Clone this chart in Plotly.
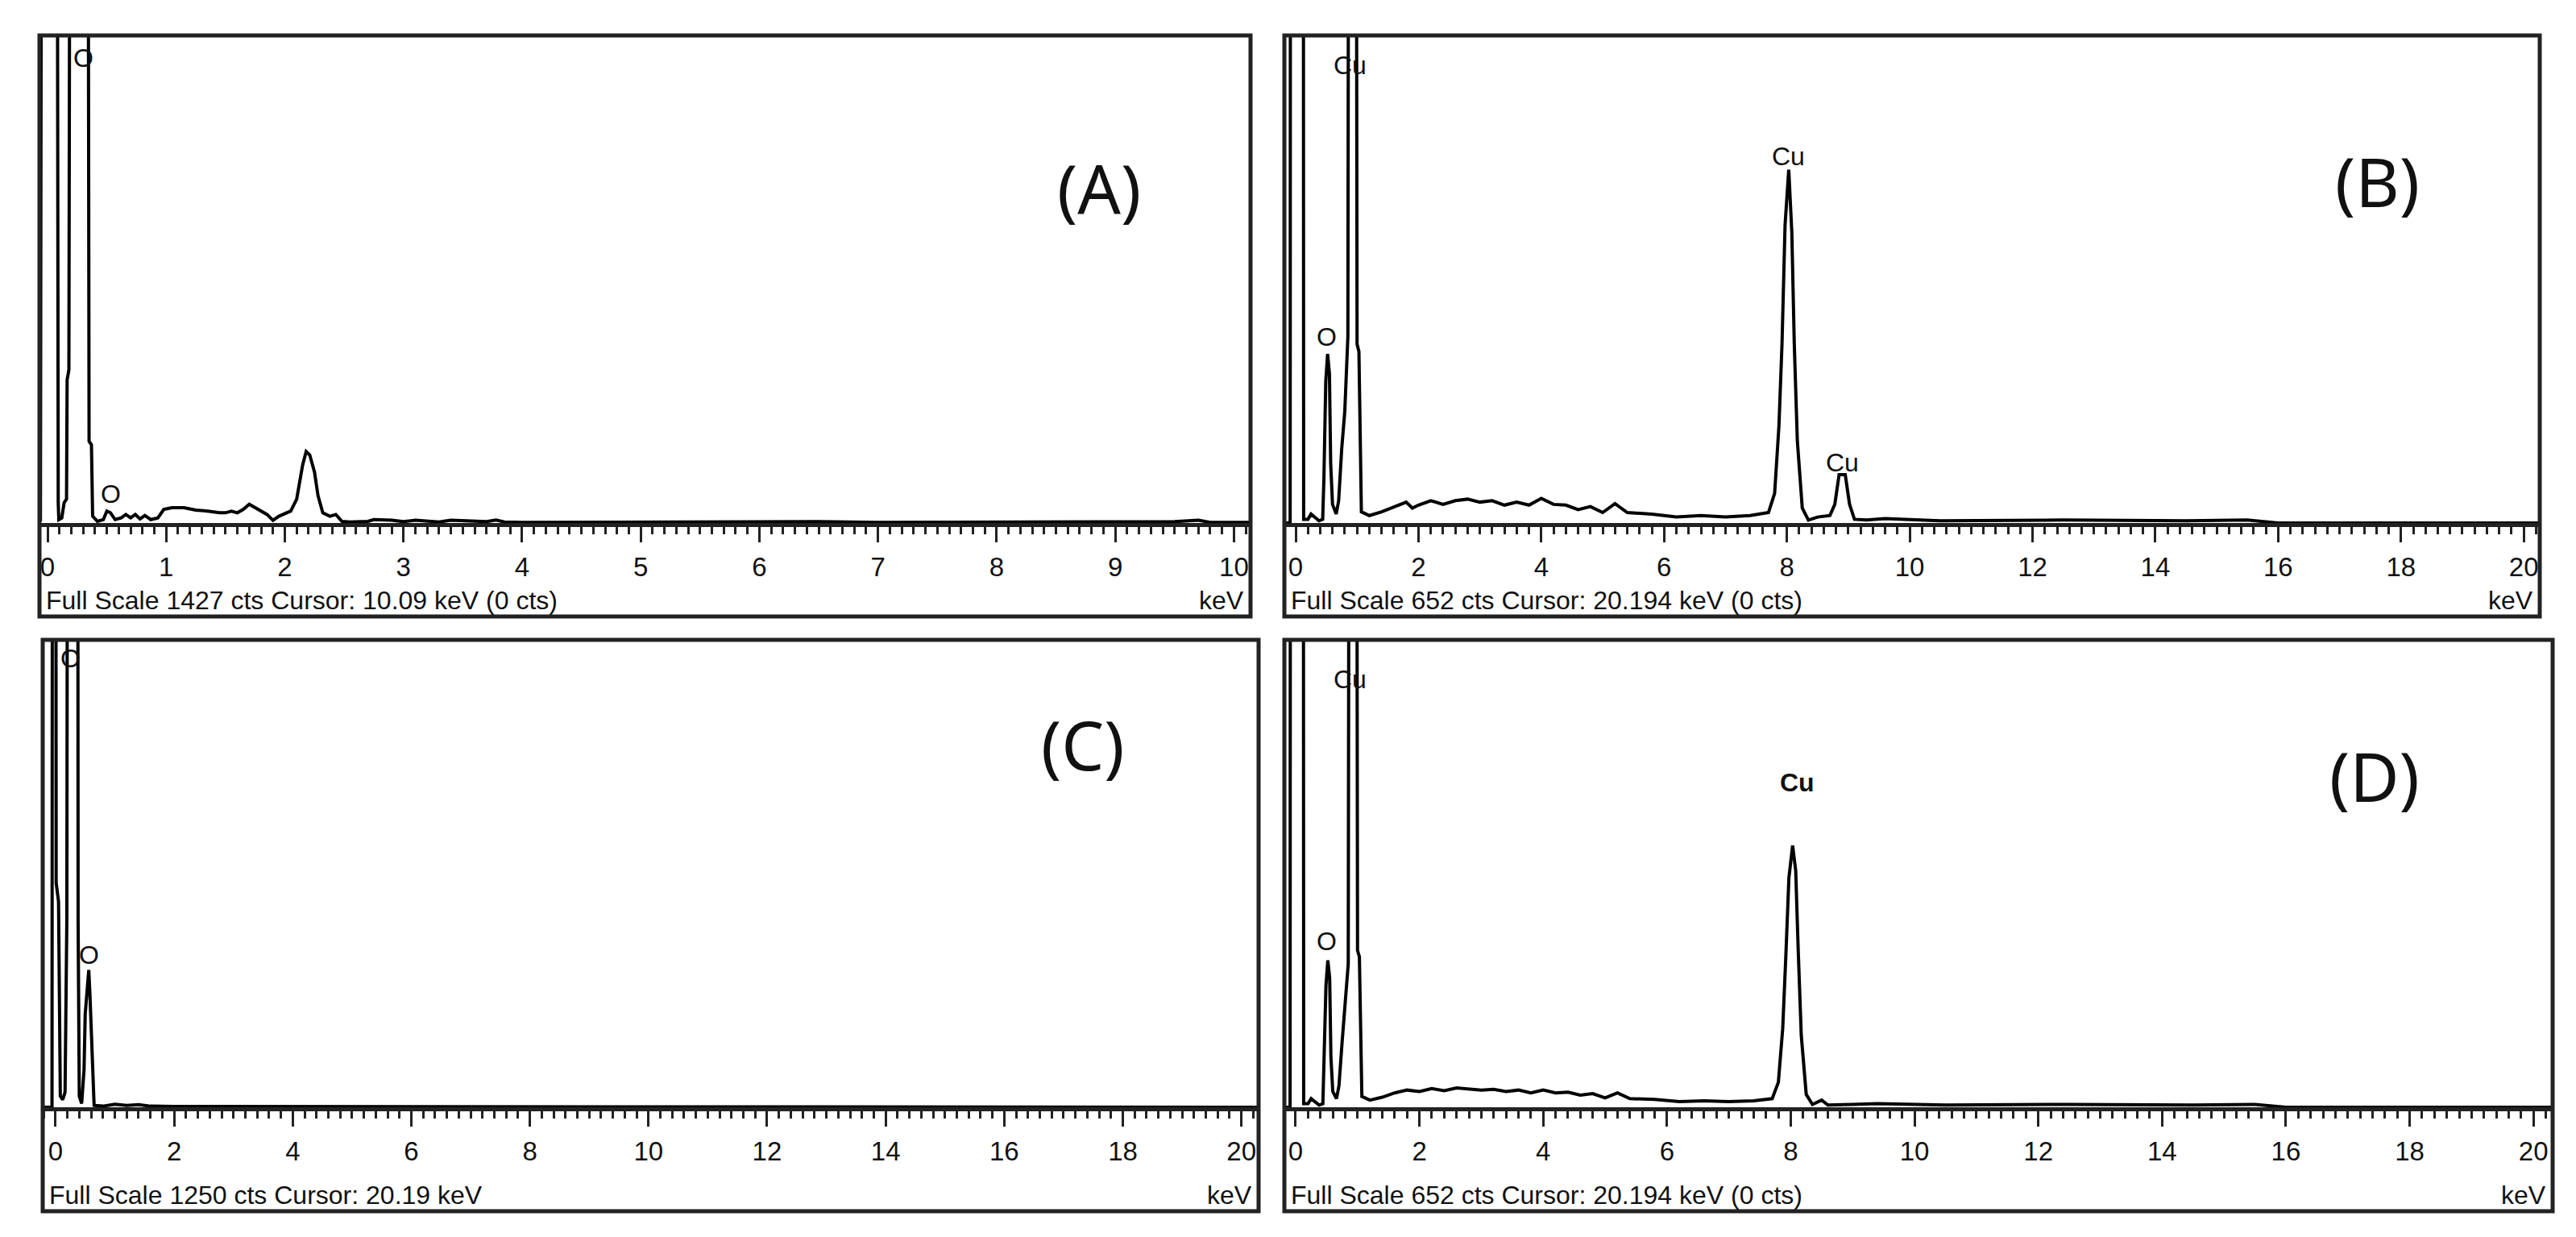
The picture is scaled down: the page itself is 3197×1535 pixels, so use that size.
import plotly.graph_objects as go

W, H = 3197, 1535

# spectrum (A), full scale 1427 cts
a_kev = [-0.06, -0.05, 0.08, 0.085, 0.09, 0.095, 0.12, 0.14, 0.16, 0.165, 0.18, 0.19, 0.34, 0.35, 0.37, 0.38,
         0.42, 0.47, 0.5, 0.53, 0.57, 0.62, 0.66, 0.7, 0.74, 0.78, 0.82, 0.87, 0.93, 0.98, 1.05, 1.15, 1.25, 1.35,
         1.45, 1.5, 1.55, 1.6, 1.65, 1.7, 1.75, 1.8, 1.85, 1.9, 1.95, 2.05, 2.1, 2.15, 2.18, 2.21, 2.25, 2.28,
         2.32, 2.38, 2.43, 2.48, 2.55, 2.7, 2.75, 2.9, 3.0, 3.1, 3.3, 3.4, 3.5, 3.7, 3.78, 3.85, 4.0, 5.3, 6.0,
         6.2, 6.5, 7.0, 8.5, 9.5, 9.7, 9.8, 10.14]
a_cts = [5, 2500, 2500, 700, 60, 10, 15, 60, 70, 420, 450, 2500, 2500, 240, 230, 20,
         5, 10, 35, 30, 10, 15, 25, 15, 25, 12, 22, 10, 15, 40, 45, 45, 38, 35,
         30, 30, 35, 30, 40, 55, 45, 35, 25, 8, 20, 35, 70, 170, 210, 200, 150, 80,
         30, 20, 25, 5, 3, 5, 10, 8, 4, 8, 3, 8, 6, 4, 9, 3, 2, 3, 4,
         6, 4, 2, 3, 4, 8, 2, 2]

# spectrum (B), full scale 652 cts
b_kev = [-0.18, -0.09, -0.08, 0.12, 0.13, 0.2, 0.25, 0.3, 0.38, 0.44, 0.46, 0.49, 0.52, 0.55, 0.57, 0.6, 0.66,
         0.7, 0.75, 0.8, 0.85, 0.88, 0.97, 1.0, 1.03, 1.07, 1.2, 1.4, 1.6, 1.8, 1.9, 2.0, 2.2, 2.4, 2.6, 2.8,
         3.0, 3.2, 3.4, 3.6, 3.8, 4.0, 4.2, 4.4, 4.6, 4.8, 5.0, 5.2, 5.4, 5.8, 6.2, 6.6, 7.0, 7.4, 7.7, 7.8,
         7.87, 7.92, 7.97, 8.03, 8.08, 8.12, 8.17, 8.25, 8.35, 8.5, 8.7, 8.78, 8.85, 8.95, 9.02, 9.1, 9.3,
         9.6, 10.5, 12.5, 14.5, 15.5, 16.0, 20.3]
b_cts = [0, 0, 2000, 2000, 5, 5, 12, 8, 3, 5, 60, 190, 227, 200, 80, 25, 12,
         30, 100, 150, 250, 2000, 2000, 240, 230, 15, 10, 15, 22, 28, 20, 24, 30, 25, 30, 32,
         28, 30, 24, 28, 24, 33, 25, 24, 18, 22, 14, 26, 14, 12, 8, 10, 8, 10, 14, 40,
         130, 240, 400, 474, 390, 240, 110, 20, 4, 8, 10, 25, 65, 65, 25, 5, 4,
         6, 3, 4, 3, 4, 0, 0]

# spectrum (C), full scale 1250 cts
c_kev = [-0.2, -0.06, -0.05, 0.0, 0.01, 0.05, 0.08, 0.12, 0.16, 0.19, 0.21, 0.37, 0.38, 0.4, 0.44, 0.48, 0.5,
         0.53, 0.56, 0.58, 0.6, 0.63, 0.65, 0.8, 1.0, 1.2, 1.4, 1.6, 2.0, 20.3]
c_cts = [0, 0, 3000, 3000, 600, 550, 30, 20, 40, 500, 3000, 3000, 500, 30, 10, 100, 250,
         300, 367, 300, 200, 60, 5, 3, 8, 5, 7, 3, 2, 0]

# spectrum (D), full scale 652 cts
d_kev = [-0.18, -0.09, -0.08, 0.12, 0.13, 0.2, 0.25, 0.3, 0.38, 0.44, 0.46, 0.49, 0.52, 0.55, 0.57, 0.6, 0.66,
         0.7, 0.75, 0.8, 0.85, 0.88, 0.97, 1.0, 1.03, 1.07, 1.2, 1.4, 1.6, 1.8, 2.0, 2.2, 2.4, 2.6, 2.8, 3.0,
         3.2, 3.4, 3.6, 3.8, 4.0, 4.2, 4.4, 4.6, 4.8, 5.0, 5.2, 5.4, 5.8, 6.2, 6.6, 7.0, 7.4, 7.7, 7.8, 7.87,
         7.92, 7.97, 8.03, 8.08, 8.12, 8.17, 8.25, 8.35, 8.5, 8.6, 9.0, 9.4, 10.5, 12.5, 14.5, 15.5, 16.0, 20.3]
d_cts = [0, 0, 2000, 2000, 5, 5, 12, 8, 3, 5, 60, 170, 205, 180, 70, 22, 12,
         30, 90, 148, 200, 2000, 2000, 219, 210, 15, 10, 14, 20, 24, 22, 26, 23, 27, 26, 24,
         25, 22, 24, 20, 24, 20, 21, 17, 19, 13, 20, 12, 11, 8, 9, 8, 9, 12, 35, 110,
         210, 320, 365, 330, 220, 100, 18, 4, 10, 3, 4, 5, 3, 4, 3, 4, 0, 0]

panels = [
    dict(x=a_kev, y=a_cts, full=1427, xr=[-0.068, 10.14], dtick=1, minor=0.1, fx=(41, 1544), fy=(36, 757), ax=641, top=38,
         foot="Full Scale 1427 cts Cursor: 10.09 keV (0 cts)", tag="(A)", tagxy=(1356, 166),
         labels=[(0.3, 1365, "O", False), (0.53, 85, "O", False)]),
    dict(x=b_kev, y=b_cts, full=652, xr=[-0.184, 20.26], dtick=2, minor=0.2, fx=(1586, 3144), fy=(36, 757), ax=641, top=38,
         foot="Full Scale 652 cts Cursor: 20.194 keV (0 cts)", tag="(B)", tagxy=(2997, 157),
         labels=[(0.89, 614, "Cu", False), (0.5, 250, "O", False), (8.03, 492, "Cu", False), (8.9, 81, "Cu", False)]),
    dict(x=c_kev, y=c_cts, full=1250, xr=[-0.217, 20.29], dtick=2, minor=0.2, fx=(45, 1554), fy=(786, 1495), ax=1366, top=786,
         foot="Full Scale 1250 cts Cursor: 20.19 keV", tag="(C)", tagxy=(1336, 915),
         labels=[(0.25, 1200, "O", False), (0.56, 407, "O", False)]),
    dict(x=d_kev, y=d_cts, full=652, xr=[-0.182, 20.31], dtick=2, minor=0.2, fx=(1586, 3160), fy=(786, 1495), ax=1366, top=786,
         foot="Full Scale 652 cts Cursor: 20.194 keV (0 cts)", tag="(D)", tagxy=(2997, 954),
         labels=[(0.88, 597, "Cu", False), (0.5, 232, "O", False), (8.1, 453, "Cu", True)]),
]

font = "Liberation Sans, Arial, sans-serif"
fig = go.Figure()
shapes, annotations = [], []
for i, p in enumerate(panels, start=1):
    xa, ya = f"x{i}", f"y{i}"
    fig.add_trace(go.Scatter(x=p["x"], y=p["y"], mode="lines", xaxis=xa, yaxis=ya,
                             line=dict(color="black", width=4), showlegend=False, hoverinfo="skip"))
    x0, x1 = p["fx"][0] / W, p["fx"][1] / W
    fig.layout[f"xaxis{i}"] = dict(domain=[x0, x1], range=p["xr"], anchor=ya, dtick=p["dtick"], tick0=0,
                                   ticks="outside", ticklen=19, tickwidth=3, tickcolor="#222",
                                   minor=dict(dtick=p["minor"], ticks="outside", ticklen=9, tickwidth=3, tickcolor="#222"),
                                   showline=True, linecolor="#222", linewidth=5, showgrid=False, zeroline=False,
                                   ticklabelstandoff=2,
                                   tickfont=dict(family=font, size=33, color="#111"), fixedrange=True)
    fig.layout[f"yaxis{i}"] = dict(domain=[1 - p["ax"] / H, 1 - p["top"] / H], range=[0, p["full"]], anchor=xa,
                                   visible=False, fixedrange=True)
    shapes.append(dict(type="rect", xref="paper", yref="paper", x0=x0, x1=x1,
                       y0=1 - p["fy"][1] / H, y1=1 - p["fy"][0] / H, line=dict(color="#222", width=5)))
    annotations.append(dict(xref="paper", yref="paper", x=(p["fx"][0] + 6) / W, y=1 - (p["fy"][1] - 20) / H,
                            text=p["foot"], showarrow=False, xanchor="left", yanchor="middle",
                            font=dict(family=font, size=32, color="#111")))
    annotations.append(dict(xref="paper", yref="paper", x=(p["fx"][1] - 6) / W, y=1 - (p["fy"][1] - 20) / H,
                            text="keV", showarrow=False, xanchor="right", yanchor="middle",
                            font=dict(family=font, size=32, color="#111")))
    annotations.append(dict(xref="paper", yref="paper", x=p["tagxy"][0] / W, y=1 - p["tagxy"][1] / H,
                            text=p["tag"], showarrow=False, font=dict(family="Noto Sans", size=84, color="#111")))
    for lx, ly, txt, bold in p["labels"]:
        annotations.append(dict(xref=xa, yref=ya, x=lx, y=ly, text=f"<b>{txt}</b>" if bold else txt,
                                showarrow=False, font=dict(family=font, size=32, color="#111")))

fig.update_layout(width=W, height=H, margin=dict(l=0, r=0, t=0, b=0), paper_bgcolor="white",
                  plot_bgcolor="white", shapes=shapes, annotations=annotations)
fig.write_html("out.html")
